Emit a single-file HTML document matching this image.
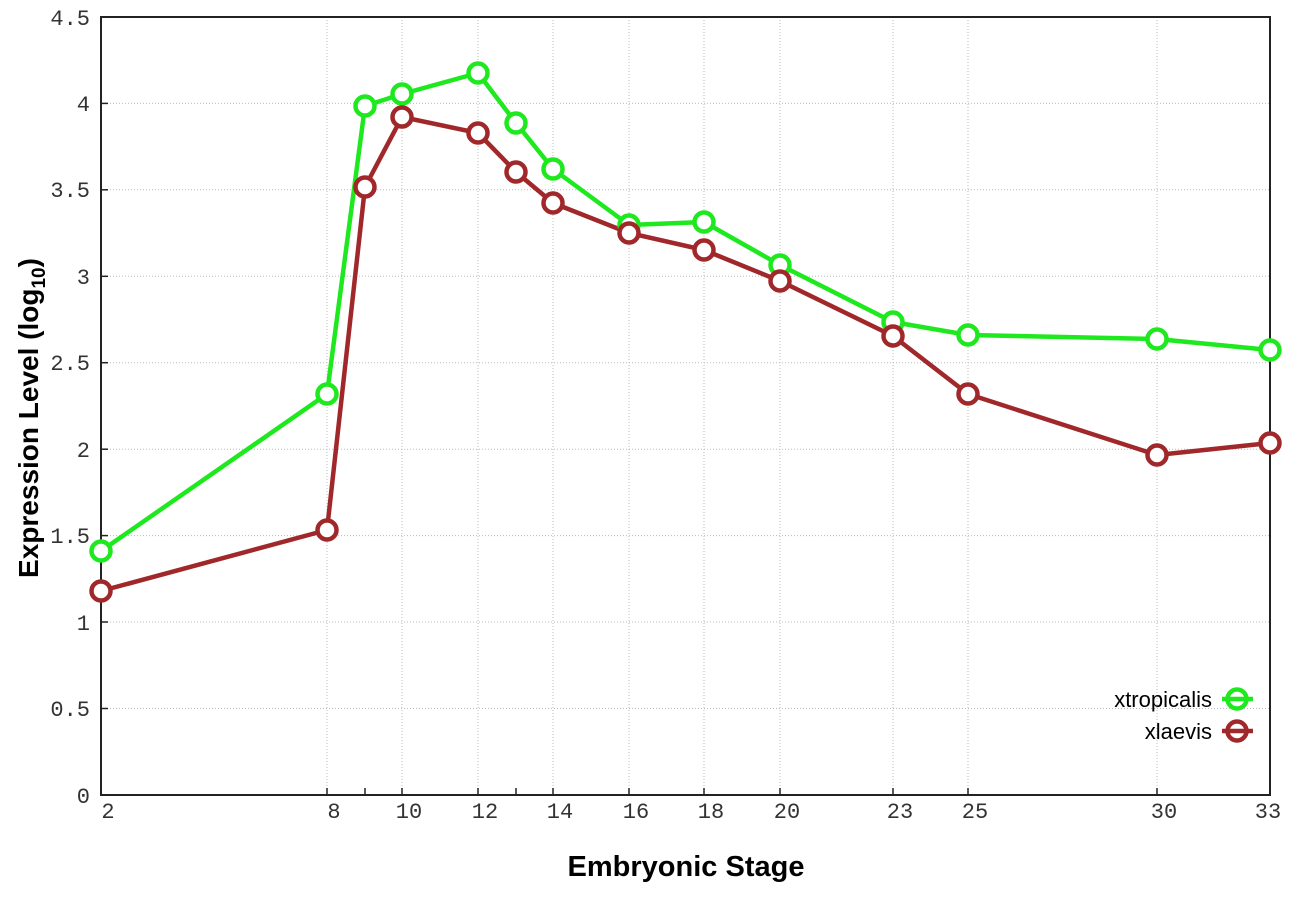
<!DOCTYPE html>
<html><head><meta charset="utf-8"><style>body{margin:0;background:#fff}</style></head><body>
<svg width="1296" height="907" xmlns="http://www.w3.org/2000/svg">
<rect width="1296" height="907" fill="#fff"/>
<g stroke="#bbb" stroke-width="1" stroke-dasharray="1,2">
<line x1="101" y1="708.5" x2="1270" y2="708.5"/><line x1="101" y1="622" x2="1270" y2="622"/>
<line x1="101" y1="535.6" x2="1270" y2="535.6"/><line x1="101" y1="449.2" x2="1270" y2="449.2"/>
<line x1="101" y1="362.7" x2="1270" y2="362.7"/><line x1="101" y1="276.3" x2="1270" y2="276.3"/>
<line x1="101" y1="189.8" x2="1270" y2="189.8"/><line x1="101" y1="103.4" x2="1270" y2="103.4"/>
<line x1="327" y1="17" x2="327" y2="795"/><line x1="402" y1="17" x2="402" y2="795"/>
<line x1="478" y1="17" x2="478" y2="795"/><line x1="553" y1="17" x2="553" y2="795"/>
<line x1="629" y1="17" x2="629" y2="795"/><line x1="704" y1="17" x2="704" y2="795"/>
<line x1="780" y1="17" x2="780" y2="795"/><line x1="893" y1="17" x2="893" y2="795"/>
<line x1="968" y1="17" x2="968" y2="795"/><line x1="1157" y1="17" x2="1157" y2="795"/>
</g>
<rect x="101" y="17" width="1169" height="778" fill="none" stroke="#222" stroke-width="2"/>
<g stroke="#222" stroke-width="1.5">
<line x1="101" y1="708.5" x2="108" y2="708.5"/><line x1="101" y1="622" x2="108" y2="622"/><line x1="101" y1="535.6" x2="108" y2="535.6"/><line x1="101" y1="449.2" x2="108" y2="449.2"/><line x1="101" y1="362.7" x2="108" y2="362.7"/><line x1="101" y1="276.3" x2="108" y2="276.3"/><line x1="101" y1="189.8" x2="108" y2="189.8"/><line x1="101" y1="103.4" x2="108" y2="103.4"/>
<line x1="327" y1="795" x2="327" y2="788"/><line x1="402" y1="795" x2="402" y2="788"/><line x1="478" y1="795" x2="478" y2="788"/><line x1="516" y1="795" x2="516" y2="788"/><line x1="553" y1="795" x2="553" y2="788"/><line x1="629" y1="795" x2="629" y2="788"/><line x1="704" y1="795" x2="704" y2="788"/><line x1="780" y1="795" x2="780" y2="788"/><line x1="893" y1="795" x2="893" y2="788"/><line x1="968" y1="795" x2="968" y2="788"/><line x1="1157" y1="795" x2="1157" y2="788"/><line x1="365" y1="795" x2="365" y2="788"/>
</g>
<g font-family="Liberation Mono, monospace" font-size="22" fill="#333" text-anchor="end">
<text x="90" y="803">0</text><text x="90" y="716">0.5</text><text x="90" y="630">1</text><text x="90" y="543">1.5</text><text x="90" y="457">2</text><text x="90" y="370">2.5</text><text x="90" y="284">3</text><text x="90" y="197">3.5</text><text x="90" y="111">4</text><text x="90" y="25">4.5</text>
</g>
<g font-family="Liberation Mono, monospace" font-size="22" fill="#333" text-anchor="middle">
<text x="108" y="818">2</text><text x="334" y="818">8</text><text x="409" y="818">10</text><text x="485" y="818">12</text><text x="560" y="818">14</text><text x="636" y="818">16</text><text x="711" y="818">18</text><text x="787" y="818">20</text><text x="900" y="818">23</text><text x="975" y="818">25</text><text x="1164" y="818">30</text><text x="1268" y="818">33</text>
</g>
<text x="686" y="876" font-family="Liberation Sans, sans-serif" font-weight="bold" font-size="29" text-anchor="middle" fill="#000">Embryonic Stage</text>
<text transform="translate(38,418) rotate(-90)" font-family="Liberation Sans, sans-serif" font-weight="bold" font-size="28" text-anchor="middle" fill="#000">Expression Level (log<tspan font-size="19" dy="7">10</tspan><tspan dy="-7">)</tspan></text>
<g fill="none" stroke-width="4.5" stroke-linejoin="round">
<polyline stroke="#1ee81e" points="101,551 327,394 365,106 402,94 478,73 516,123 553,169 629,225 704,222 780,265 893,322 968,335 1157,339 1270,350"/>
<polyline stroke="#a0282a" points="101,591 327,530 365,187 402,117 478,133 516,172 553,203 629,233 704,250 780,281 893,336 968,394 1157,455 1270,443"/>
</g>
<g fill="#fff" stroke="#1ee81e" stroke-width="4.5">
<circle cx="101" cy="551" r="9.5"/><circle cx="327" cy="394" r="9.5"/><circle cx="365" cy="106" r="9.5"/><circle cx="402" cy="94" r="9.5"/><circle cx="478" cy="73" r="9.5"/><circle cx="516" cy="123" r="9.5"/><circle cx="553" cy="169" r="9.5"/><circle cx="629" cy="225" r="9.5"/><circle cx="704" cy="222" r="9.5"/><circle cx="780" cy="265" r="9.5"/><circle cx="893" cy="322" r="9.5"/><circle cx="968" cy="335" r="9.5"/><circle cx="1157" cy="339" r="9.5"/><circle cx="1270" cy="350" r="9.5"/>
</g>
<g fill="#fff" stroke="#a0282a" stroke-width="4.5">
<circle cx="101" cy="591" r="9.5"/><circle cx="327" cy="530" r="9.5"/><circle cx="365" cy="187" r="9.5"/><circle cx="402" cy="117" r="9.5"/><circle cx="478" cy="133" r="9.5"/><circle cx="516" cy="172" r="9.5"/><circle cx="553" cy="203" r="9.5"/><circle cx="629" cy="233" r="9.5"/><circle cx="704" cy="250" r="9.5"/><circle cx="780" cy="281" r="9.5"/><circle cx="893" cy="336" r="9.5"/><circle cx="968" cy="394" r="9.5"/><circle cx="1157" cy="455" r="9.5"/><circle cx="1270" cy="443" r="9.5"/>
</g>
<g font-family="Liberation Sans, sans-serif" font-size="22" fill="#000" text-anchor="end">
<text x="1212" y="707">xtropicalis</text><text x="1212" y="739">xlaevis</text>
</g>
<line x1="1222" y1="699" x2="1253" y2="699" stroke="#1ee81e" stroke-width="4.5"/>
<circle cx="1237" cy="699" r="9.5" fill="none" stroke="#1ee81e" stroke-width="4.5"/>
<line x1="1222" y1="731" x2="1253" y2="731" stroke="#a0282a" stroke-width="4.5"/>
<circle cx="1237" cy="731" r="9.5" fill="none" stroke="#a0282a" stroke-width="4.5"/>
</svg>
</body></html>
